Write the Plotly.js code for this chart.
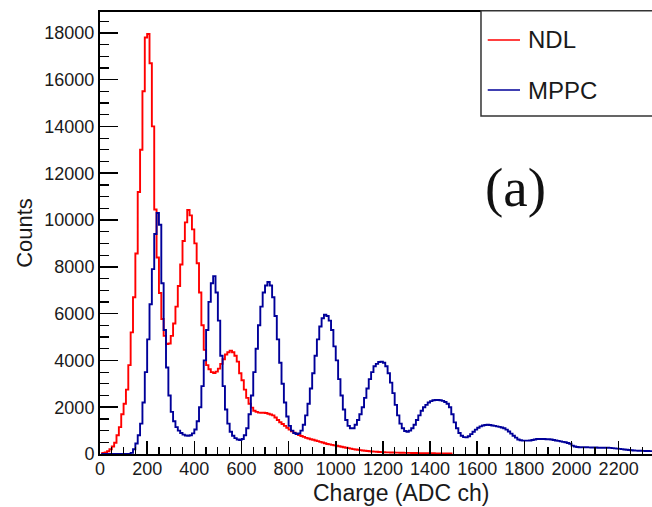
<!DOCTYPE html>
<html>
<head>
<meta charset="utf-8">
<script src="https://cdn.plot.ly/plotly-3.0.1.min.js"></script>
<style>
  html, body { margin: 0; padding: 0; background: #ffffff; }
  #chart { width: 652px; height: 507px; }
</style>
</head>
<body>
<div id="chart"></div>
<script>
// Histogram bin width (ADC channels); bins start at 0
const binWidth = 10;

// NDL counts per 10-ch bin, bins 0..1500
const ndlCounts = [
  20, 40, 70, 120, 200, 320, 480, 800, 1150, 1700,
  2150, 2750, 3800, 5200, 6700, 8570, 11200, 13000, 15500, 17800,
  17950, 16700, 14000, 10450, 8400, 6880, 5770, 5050, 4700, 4720,
  5050, 5580, 6300, 7180, 8100, 9100, 9900, 10430, 10200, 9600,
  9000, 8150, 6900, 5500, 4450, 3800, 3620, 3500, 3460, 3520,
  3650, 3850, 4050, 4250, 4350, 4420, 4350, 4200, 3950, 3450,
  3150, 2750, 2400, 2150, 1980, 1850, 1800, 1770, 1760, 1760,
  1750, 1720, 1690, 1650, 1560, 1450, 1360, 1280, 1200, 1120,
  1040, 970, 910, 860, 810, 770, 730, 690, 660, 630,
  610, 580, 550, 520, 490, 460, 430, 410, 390, 370,
  350, 330, 310, 290, 270, 250, 230, 210, 195, 180,
  165, 150, 140, 130, 120, 110, 100, 95, 85, 80,
  75, 70, 68, 65, 62, 60, 58, 55, 52, 50,
  48, 46, 44, 42, 40, 38, 36, 35, 34, 32,
  30, 29, 28, 27, 26, 25, 24, 23, 22, 21
];

// MPPC counts per 10-ch bin, bins 0..2360
const mppcCounts = [
  0, 0, 0, 0, 0, 0, 0, 0, 0, 0,
  0, 0, 0, 50, 200, 450, 800, 1300, 2200, 3500,
  4900, 6400, 7900, 9400, 10300, 9800, 7300, 5300, 3700, 2500,
  1800, 1400, 1150, 1000, 900, 830, 790, 780, 800, 880,
  1050, 1400, 2000, 2900, 4000, 5300, 6500, 7300, 7600, 6900,
  5700, 4200, 2900, 1900, 1300, 950, 780, 680, 620, 600,
  640, 800, 1100, 1700, 2500, 3500, 4500, 5500, 6300, 6900,
  7200, 7350, 7200, 6700, 5900, 4900, 3900, 3000, 2200, 1600,
  1200, 1000, 900, 850, 880, 1000, 1250, 1650, 2150, 2800,
  3450, 4200, 4900, 5450, 5800, 5950, 5900, 5700, 5300, 4600,
  4000, 3200, 2500, 1900, 1450, 1200, 1100, 1100, 1250, 1450,
  1700, 2000, 2400, 2800, 3200, 3500, 3750, 3850, 3930, 3950,
  3900, 3750, 3450, 3050, 2600, 2100, 1650, 1300, 1100, 980,
  950, 1000, 1100, 1250, 1450, 1650, 1850, 2000, 2100, 2200,
  2260, 2300, 2310, 2310, 2300, 2270, 2220, 2150, 2000, 1700,
  1350, 1100, 900, 780, 720, 710, 760, 850, 950, 1040,
  1120, 1180, 1220, 1240, 1250, 1240, 1220, 1200, 1180, 1160,
  1130, 1100, 1040, 960, 870, 780, 700, 620, 590, 570,
  570, 570, 580, 600, 620, 640, 640, 640, 640, 630,
  630, 620, 600, 580, 560, 540, 520, 500, 470, 440,
  360, 320, 300, 290, 290, 290, 290, 285, 280, 280,
  275, 270, 270, 270, 270, 265, 260, 250, 240, 230,
  220, 210, 190, 180, 170, 160, 150, 145, 140, 140,
  135, 130, 130, 125, 125, 120
];

const seriesNames = ["NDL", "MPPC"];
const seriesColors = ["#ff0000", "#000099"];
const xTitle = "Charge (ADC ch)";
const yTitle = "Counts";
const panelLabel = "(a)";

const centers = arr => arr.map((_, i) => (i + 0.5) * binWidth);

const traces = [ndlCounts, mppcCounts].map((vals, k) => ({
  type: "scatter",
  mode: "lines",
  x: centers(vals),
  y: vals,
  name: seriesNames[k],
  line: { color: seriesColors[k], width: 1.9, shape: "hvh" },
  hoverinfo: "x+y+name"
}));

const font = "Liberation Sans, Arial, Helvetica, sans-serif";
const txt = "#1a1a1a";

// plot area: x px 100..652, y px 12..454
const legendShapes = [
  { type: "rect", xref: "paper", yref: "paper", x0: 0.6902, x1: 1.03, y0: 0.7647, y1: 1.003,
    line: { color: "#333333", width: 1.5 }, fillcolor: "#ffffff", layer: "above" },
  { type: "line", xref: "paper", yref: "paper", x0: 0.7024, x1: 0.7609, y0: 0.9367, y1: 0.9367,
    line: { color: seriesColors[0], width: 1.5 }, layer: "above" },
  { type: "line", xref: "paper", yref: "paper", x0: 0.7024, x1: 0.7609, y0: 0.8235, y1: 0.8235,
    line: { color: seriesColors[1], width: 1.5 }, layer: "above" }
];

const layout = {
  width: 652,
  height: 507,
  margin: { l: 100, r: 0, t: 12, b: 53, pad: 0 },
  paper_bgcolor: "#ffffff",
  plot_bgcolor: "#ffffff",
  showlegend: false,
  font: { family: font, color: txt, size: 18 },
  xaxis: {
    range: [0, 2341.5],
    tick0: 0, dtick: 200,
    tickformat: "d",
    ticks: "inside", ticklen: 13, tickwidth: 1.5, tickcolor: "#000",
    ticklabelstandoff: -3,
    minor: { ticks: "inside", ticklen: 7, tickwidth: 1.2, dtick: 50, tickcolor: "#000" },
    showline: true, linecolor: "#000", linewidth: 2, mirror: true,
    showgrid: false, zeroline: false,
    tickfont: { family: font, size: 18, color: txt }
  },
  yaxis: {
    range: [0, 18890],
    tick0: 0, dtick: 2000,
    tickformat: "d",
    ticks: "inside", ticklen: 18, tickwidth: 1.5, tickcolor: "#000",
    minor: { ticks: "inside", ticklen: 9, tickwidth: 1.2, dtick: 500, tickcolor: "#000" },
    showline: true, linecolor: "#000", linewidth: 2, mirror: false,
    showgrid: false, zeroline: false,
    tickfont: { family: font, size: 18, color: txt },
    title: { text: yTitle, font: { family: font, size: 22, color: txt }, standoff: 6 }
  },
  shapes: legendShapes,
  annotations: [
    // x-axis title, centred on the full (cropped) frame as in the original
    { xref: "paper", yref: "paper", x: 0.5444, y: -0.0875, xanchor: "center", yanchor: "middle",
      text: xTitle, showarrow: false, borderpad: 0, font: { family: font, size: 23, color: txt } },
    { xref: "paper", yref: "paper", x: 0.7717, y: 0.9367, xanchor: "left", yanchor: "middle",
      text: seriesNames[0], showarrow: false, font: { family: font, size: 24, color: txt } },
    { xref: "paper", yref: "paper", x: 0.7717, y: 0.8235, xanchor: "left", yanchor: "middle",
      text: seriesNames[1], showarrow: false, font: { family: font, size: 24, color: txt } },
    { xref: "paper", yref: "paper", x: 0.752, y: 0.604, xanchor: "center", yanchor: "middle",
      text: panelLabel, showarrow: false,
      font: { family: "Liberation Serif, Times New Roman, serif", size: 55, color: "#111" } }
  ]
};

Plotly.newPlot("chart", traces, layout, { displayModeBar: false, staticPlot: true });
</script>
</body>
</html>
